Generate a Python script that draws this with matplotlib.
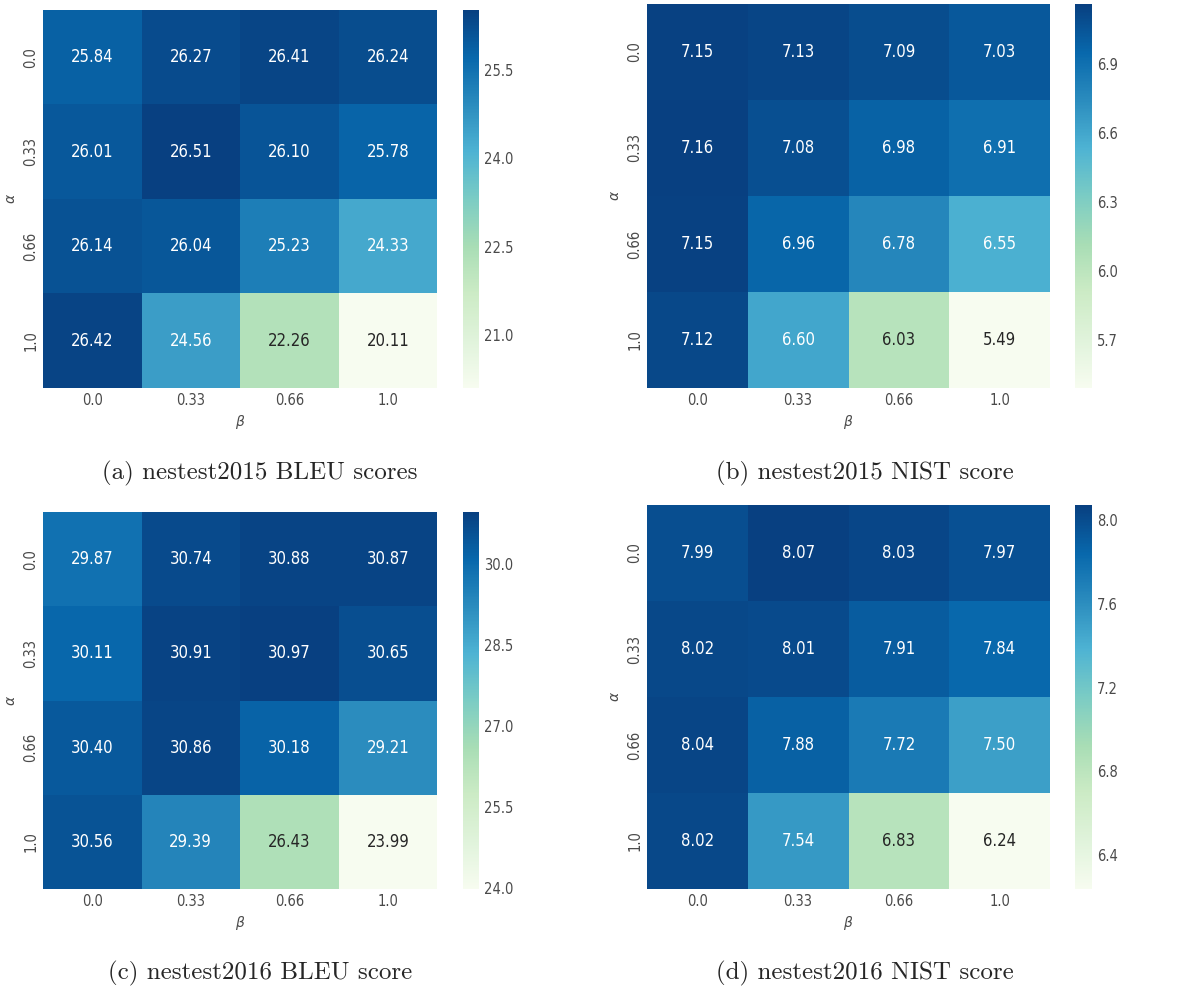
import matplotlib
matplotlib.use("Agg")
import matplotlib.pyplot as plt
import numpy as np
import seaborn as sns
from matplotlib.ticker import FormatStrFormatter

sns.set_style("white")

alpha_labels = ["0.0", "0.33", "0.66", "1.0"]
beta_labels = ["0.0", "0.33", "0.66", "1.0"]

# rows: alpha, columns: beta
bleu_2015 = [[25.84, 26.27, 26.41, 26.24],
             [26.01, 26.51, 26.10, 25.78],
             [26.14, 26.04, 25.23, 24.33],
             [26.42, 24.56, 22.26, 20.11]]
nist_2015 = [[7.15, 7.13, 7.09, 7.03],
             [7.16, 7.08, 6.98, 6.91],
             [7.15, 6.96, 6.78, 6.55],
             [7.12, 6.60, 6.03, 5.49]]
bleu_2016 = [[29.87, 30.74, 30.88, 30.87],
             [30.11, 30.91, 30.97, 30.65],
             [30.40, 30.86, 30.18, 29.21],
             [30.56, 29.39, 26.43, 23.99]]
nist_2016 = [[7.99, 8.07, 8.03, 7.97],
             [8.02, 8.01, 7.91, 7.84],
             [8.04, 7.88, 7.72, 7.50],
             [8.02, 7.54, 6.83, 6.24]]

cbar_ticks = [[21.0, 22.5, 24.0, 25.5],
              [5.7, 6.0, 6.3, 6.6, 6.9],
              [24.0, 25.5, 27.0, 28.5, 30.0],
              [6.4, 6.8, 7.2, 7.6, 8.0]]

captions = ["(a) nestest2015 BLEU scores",
            "(b) nestest2015 NIST score",
            "(c) nestest2016 BLEU score",
            "(d) nestest2016 NIST score"]

W, H = 1196, 989
fig = plt.figure(figsize=(W / 100, H / 100), dpi=100)


def box(x0, y0, x1, y1):
    return [x0 / W, 1 - y1 / H, (x1 - x0) / W, (y1 - y0) / H]


# pixel boxes: heatmap, colorbar, caption centre
panels = [
    ((43, 10, 437, 388), (463, 10, 479, 388), (260, 473)),
    ((647, 4, 1050, 388), (1075, 4, 1092, 388), (865, 473)),
    ((43, 512, 437, 889), (463, 512, 479, 889), (260, 973)),
    ((647, 505, 1050, 889), (1075, 505, 1092, 889), (865, 973)),
]

tables = [bleu_2015, nist_2015, bleu_2016, nist_2016]
gray = "#4a4a4a"

for data, (hm, cb, cap), ticks, text in zip(tables, panels, cbar_ticks, captions):
    ax = fig.add_axes(box(*hm))
    cax = fig.add_axes(box(*cb))
    sns.heatmap(np.array(data), ax=ax, cbar_ax=cax, cmap="GnBu",
                annot=True, fmt=".2f",
                annot_kws={"size": 12, "fontstretch": "condensed"},
                xticklabels=beta_labels, yticklabels=alpha_labels)
    ax.set_xlabel(r"$\beta$", fontsize=10, color=gray)
    ax.set_ylabel(r"$\alpha$", fontsize=10, color=gray)
    ax.tick_params(labelsize=10.5, labelcolor=gray, length=0)
    for t in ax.get_xticklabels() + ax.get_yticklabels():
        t.set_fontstretch("condensed")
    for t in ax.get_yticklabels():
        t.set_rotation(90)
        t.set_va("center")
    cax.set_yticks(ticks)
    cax.yaxis.set_major_formatter(FormatStrFormatter("%.1f"))
    cax.tick_params(labelsize=10.5, labelcolor=gray, length=0)
    for t in cax.get_yticklabels():
        t.set_fontstretch("condensed")
    for s in cax.spines.values():
        s.set_visible(False)
    fig.text(cap[0] / W, 1 - cap[1] / H, text, fontfamily="cmr10",
             fontsize=18, ha="center", va="center")

fig.savefig("out.png", dpi=100)
